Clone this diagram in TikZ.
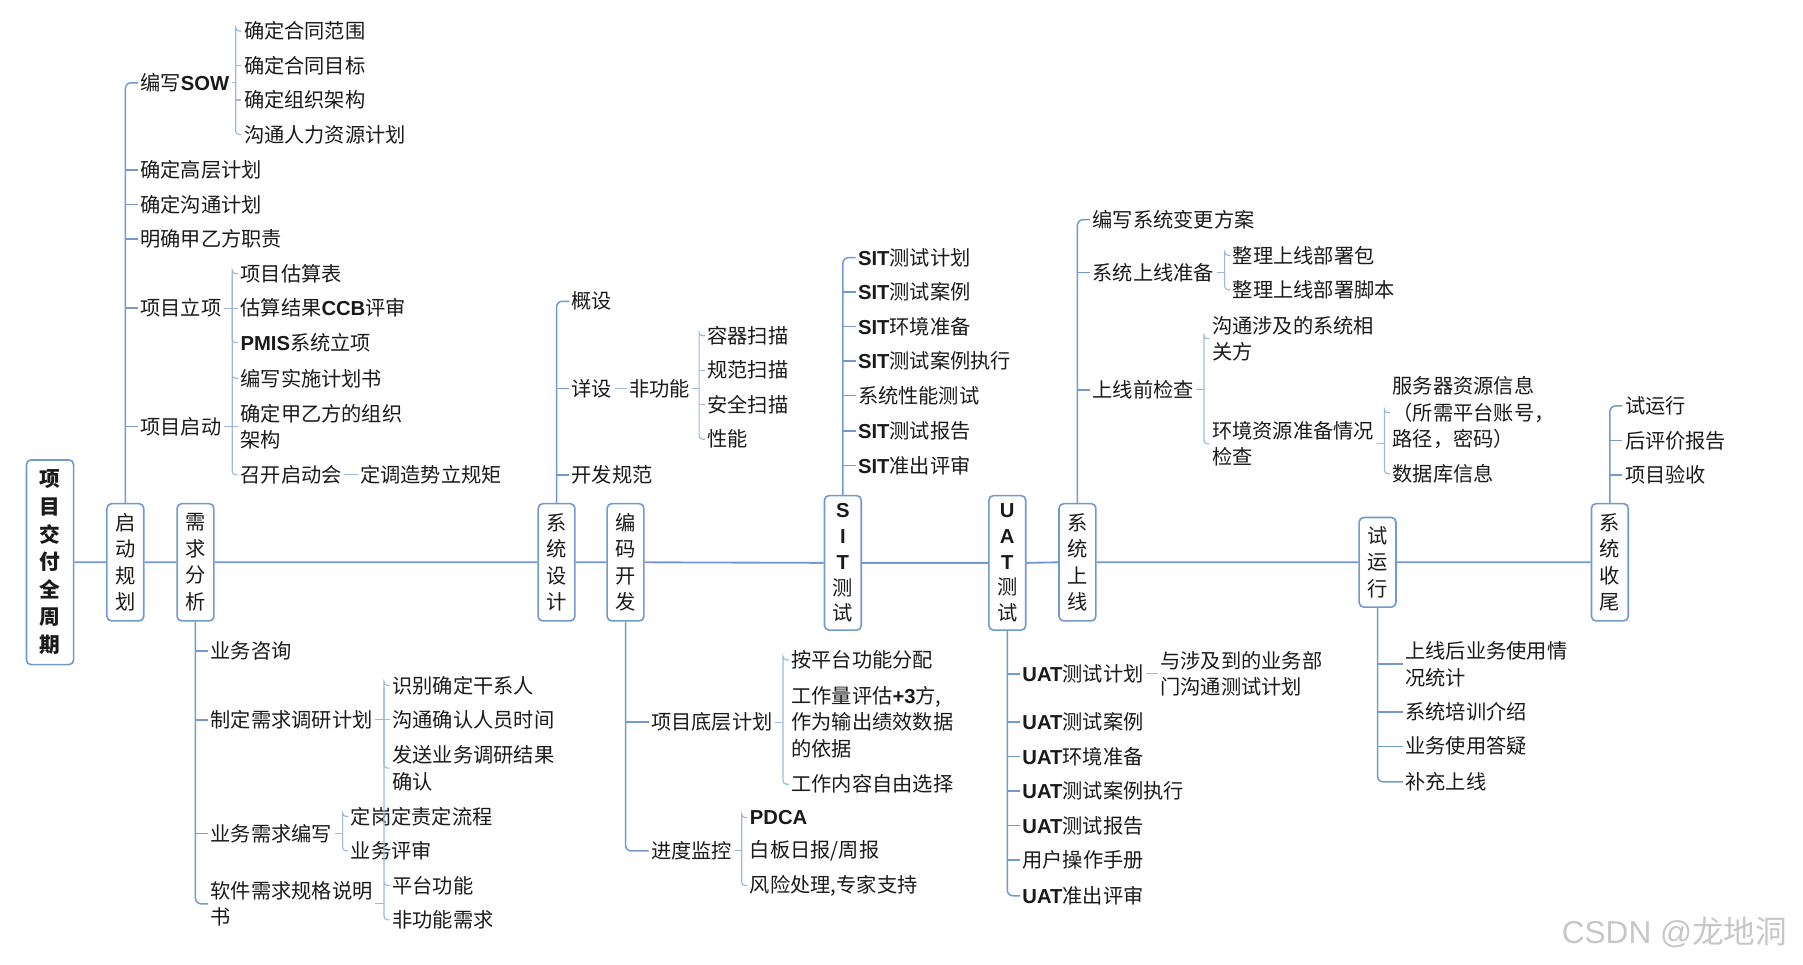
\documentclass[tikz,border=0pt]{standalone}
\usepackage{fontspec}
\setmainfont{Noto Sans CJK SC}
\newfontfamily\latb{Liberation Sans}
\newcommand\BL[1]{{\latb\bfseries #1}}
\definecolor{ln}{HTML}{7299D2}
\definecolor{lnl}{HTML}{9CB8E0}
\definecolor{txt}{HTML}{1A1A1A}
\begin{document}
\begin{tikzpicture}[x=1pt,y=-1pt,
  font=\fontsize{17.6}{23}\selectfont,
  box/.style={draw=ln, line width=1.4pt, rounded corners=4pt, fill=white, align=center, inner sep=0pt, minimum width=32pt, text width=32pt, text=txt},
  t/.style={anchor=west, inner xsep=2pt, inner ysep=1pt, xshift=-2pt, align=left, text=txt},
  trunk/.style={draw=ln, line width=1.3pt},
  tr/.style={draw=ln, line width=1.3pt, rounded corners=5pt},
  br/.style={draw=lnl, line width=1pt},
  brr/.style={draw=lnl, line width=1pt, rounded corners=3pt},
  mainline/.style={draw=ln, line width=1.6pt}]
\useasboundingbox (0,0) rectangle (1568,839);

% ---- stage boxes ----
\node[box, minimum width=41pt, text width=41pt, minimum height=178pt, font=\bfseries\fontsize{18}{24}\selectfont] (root) at (43.5,489) {项\\目\\交\\付\\全\\周\\期};
\node[box, minimum height=102pt] (b1) at (109,489) {启\\动\\规\\划};
\node[box, minimum height=102pt] (b2) at (170,489) {需\\求\\分\\析};
\node[box, minimum height=102pt] (b3) at (484,489) {系\\统\\设\\计};
\node[box, minimum height=102pt] (b4) at (544,489) {编\\码\\开\\发};
\node[box, minimum height=117pt, font=\fontsize{17.6}{22.5}\selectfont] (b5) at (733,489.5) {\BL{S}\\\BL{I}\\\BL{T}\\测\\试};
\node[box, minimum height=117pt, font=\fontsize{17.6}{22.5}\selectfont] (b6) at (876,489.5) {\BL{U}\\\BL{A}\\\BL{T}\\测\\试};
\node[box, minimum height=102pt] (b7) at (937,489) {系\\统\\上\\线};
\node[box, minimum height=78pt] (b8) at (1198,489) {试\\运\\行};
\node[box, minimum height=102pt] (b9) at (1400,489) {系\\统\\收\\尾};

\draw[mainline] (root.east) -- (b1.west) (b1.east) -- (b2.west) (b2.east) -- (b3.west)
  (b3.east) -- (b4.west) (b4.east) -- (b5.west) (b5.east) -- (b6.west)
  (b6.east) -- (b7.west) (b7.east) -- (b8.west) (b8.east) -- (b9.west);

% ---- 启动规划 ----
\node[t] (a1) at (122,72) {编写\BL{SOW}};
\node[t] (a2) at (122,148) {确定高层计划};
\node[t] (a3) at (122,178) {确定沟通计划};
\node[t] (a4) at (122,208) {明确甲乙方职责};
\node[t] (a5) at (122,268) {项目立项};
\node[t] (a6) at (122,371) {项目启动};
\node[t] (a11) at (212,27) {确定合同范围};
\node[t] (a12) at (212,57) {确定合同目标};
\node[t] (a13) at (212,87) {确定组织架构};
\node[t] (a14) at (212,117) {沟通人力资源计划};
\node[t] (a51) at (209,238) {项目估算表};
\node[t] (a52) at (209,268) {估算结果\BL{CCB}评审};
\node[t] (a53) at (209,298) {\BL{PMIS}系统立项};
\node[t] (a61) at (209,329) {编写实施计划书};
\node[t] (a62) at (209,371) {确定甲乙方的组织\\架构};
\node[t] (a63) at (209,413) {召开启动会};
\node[t] (a631) at (313,413) {定调造势立规矩};

\draw[tr] (b1.north) |- (a1.west);
\foreach \n in {a2,a3,a4,a5,a6} \draw[trunk] (b1.north |- \n.west) -- (\n.west);
\coordinate (xa1) at ([xshift=-5pt]a11.west);
\draw[brr] (a11.west) -| (xa1) |- (a14.west);
\draw[br] (a1.east) -- (a1.east -| xa1) (a12.west) -- (a12.west -| xa1) (a13.west) -- (a13.west -| xa1);
\coordinate (xa5) at ([xshift=-5pt]a51.west);
\draw[brr] (a51.west) -| (xa5) |- (a53.west);
\draw[br] (a5.east) -- (a5.east -| xa5) (a52.west) -- (a52.west -| xa5);
\draw[brr] (a61.west) -| (xa5) |- (a63.west);
\draw[br] (a6.east) -- (a6.east -| xa5) (a62.west) -- (a62.west -| xa5);
\draw[br] (a63.east) -- (a631.west);

% ---- 需求分析 ----
\node[t] (r1) at (183,566) {业务咨询};
\node[t] (r2) at (183,626) {制定需求调研计划};
\node[t] (r3) at (183,725) {业务需求编写};
\node[t] (r4) at (183,786) {软件需求规格说明\\书};
\node[t] (r21) at (341,596) {识别确定干系人};
\node[t] (r22) at (341,626) {沟通确认人员时间};
\node[t] (r23) at (341,668) {发送业务调研结果\\确认};
\node[t] (r31) at (305,710) {定岗定责定流程};
\node[t] (r32) at (305,740) {业务评审};
\node[t] (r41) at (341,770) {平台功能};
\node[t] (r42) at (341,800) {非功能需求};

\draw[tr] (b2.south) |- (r4.west);
\foreach \n in {r1,r2,r3} \draw[trunk] (b2.south |- \n.west) -- (\n.west);
\coordinate (xr2) at ([xshift=-5pt]r21.west);
\draw[brr] (r21.west) -| (xr2) |- (r23.west);
\draw[br] (r2.east) -- (r2.east -| xr2) (r22.west) -- (r22.west -| xr2);
\coordinate (xr3) at ([xshift=-5pt]r31.west);
\draw[brr] (r31.west) -| (xr3) |- (r32.west);
\draw[br] (r3.east) -- (r3.east -| xr3);
\draw[brr] (r41.west) -| (xr2) |- (r42.west);
\draw[br] (r4.east) -- (r4.east -| xr2);

% ---- 系统设计 ----
\node[t] (s1) at (497,262) {概设};
\node[t] (s2) at (497,338) {详设};
\node[t] (s3) at (497,413) {开发规范};
\node[t] (s21) at (547,338) {非功能};
\node[t] (s211) at (615,292) {容器扫描};
\node[t] (s212) at (615,322) {规范扫描};
\node[t] (s213) at (615,352) {安全扫描};
\node[t] (s214) at (615,382) {性能};

\draw[tr] (b3.north) |- (s1.west);
\foreach \n in {s2,s3} \draw[trunk] (b3.north |- \n.west) -- (\n.west);
\draw[br] (s2.east) -- (s21.west);
\coordinate (xs2) at ([xshift=-5pt]s211.west);
\draw[brr] (s211.west) -| (xs2) |- (s214.west);
\draw[br] (s21.east) -- (s21.east -| xs2) (s212.west) -- (s212.west -| xs2) (s213.west) -- (s213.west -| xs2);

% ---- 编码开发 ----
\node[t] (d1) at (566,628) {项目底层计划};
\node[t] (d2) at (566,740) {进度监控};
\node[t] (d11) at (688,574) {按平台功能分配};
\node[t] (d12) at (688,628) {工作量评估\BL{+3}方,\\作为输出绩效数据\\的依据};
\node[t] (d13) at (688,682) {工作内容自由选择};
\node[t] (d21) at (652,711) {\BL{PDCA}};
\node[t] (d22) at (652,740) {白板日报/周报};
\node[t] (d23) at (652,770) {风险处理,专家支持};

\draw[tr] (b4.south) |- (d2.west);
\draw[trunk] (b4.south |- d1.west) -- (d1.west);
\coordinate (xd1) at ([xshift=-5pt]d11.west);
\draw[brr] (d11.west) -| (xd1) |- (d13.west);
\draw[br] (d1.east) -- (d1.east -| xd1);
\coordinate (xd2) at ([xshift=-5pt]d21.west);
\draw[brr] (d21.west) -| (xd2) |- (d23.west);
\draw[br] (d2.east) -- (d2.east -| xd2);

% ---- SIT测试 ----
\node[t] (t1) at (746,224) {\BL{SIT}测试计划};
\node[t] (t2) at (746,254) {\BL{SIT}测试案例};
\node[t] (t3) at (746,284) {\BL{SIT}环境准备};
\node[t] (t4) at (746,314) {\BL{SIT}测试案例执行};
\node[t] (t5) at (746,344) {系统性能测试};
\node[t] (t6) at (746,375) {\BL{SIT}测试报告};
\node[t] (t7) at (746,405) {\BL{SIT}准出评审};
\draw[tr] (b5.north) |- (t1.west);
\foreach \n in {t2,t3,t4,t5,t6,t7} \draw[trunk] (b5.north |- \n.west) -- (\n.west);

% ---- UAT测试 ----
\node[t] (u1) at (889,586) {\BL{UAT}测试计划};
\node[t] (u11) at (1009,586) {与涉及到的业务部\\门沟通测试计划};
\node[t] (u2) at (889,628) {\BL{UAT}测试案例};
\node[t] (u3) at (889,658) {\BL{UAT}环境准备};
\node[t] (u4) at (889,688) {\BL{UAT}测试案例执行};
\node[t] (u5) at (889,718) {\BL{UAT}测试报告};
\node[t] (u6) at (889,748) {用户操作手册};
\node[t] (u7) at (889,779) {\BL{UAT}准出评审};
\draw[tr] (b6.south) |- (u7.west);
\foreach \n in {u1,u2,u3,u4,u5,u6} \draw[trunk] (b6.south |- \n.west) -- (\n.west);
\draw[br] (u1.east) -- (u11.west);

% ---- 系统上线 ----
\node[t] (g1) at (950,191) {编写系统变更方案};
\node[t] (g2) at (950,237) {系统上线准备};
\node[t] (g3) at (950,339) {上线前检查};
\node[t] (g21) at (1072,222) {整理上线部署包};
\node[t] (g22) at (1072,252) {整理上线部署脚本};
\node[t] (g31) at (1054,294.5) {沟通涉及的系统相\\关方};
\node[t] (g32) at (1054,386) {环境资源准备情况\\检查};
\node[t] (g321) at (1211,359) {服务器资源信息\\（所需平台账号，\\路径，密码）};
\node[t] (g322) at (1211,412) {数据库信息};
\draw[tr] (b7.north) |- (g1.west);
\foreach \n in {g2,g3} \draw[trunk] (b7.north |- \n.west) -- (\n.west);
\coordinate (xg2) at ([xshift=-5pt]g21.west);
\draw[brr] (g21.west) -| (xg2) |- (g22.west);
\draw[br] (g2.east) -- (g2.east -| xg2);
\coordinate (xg3) at ([xshift=-5pt]g31.west);
\draw[brr] (g31.west) -| (xg3) |- (g32.west);
\draw[br] (g3.east) -- (g3.east -| xg3);
\coordinate (xg32) at ([xshift=-5pt]g321.west);
\draw[brr] (g321.west) -| (xg32) |- (g322.west);
\draw[br] (g32.east) -- (g32.east -| xg32);

% ---- 试运行 ----
\node[t] (h1) at (1222,577.5) {上线后业务使用情\\况统计};
\node[t] (h2) at (1222,619) {系统培训介绍};
\node[t] (h3) at (1222,649) {业务使用答疑};
\node[t] (h4) at (1222,680) {补充上线};
\draw[tr] (b8.south) |- (h4.west);
\foreach \n in {h1,h2,h3} \draw[trunk] (b8.south |- \n.west) -- (\n.west);

% ---- 系统收尾 ----
\node[t] (k1) at (1413,353) {试运行};
\node[t] (k2) at (1413,383) {后评价报告};
\node[t] (k3) at (1413,413) {项目验收};
\draw[tr] (b9.north) |- (k1.west);
\foreach \n in {k2,k3} \draw[trunk] (b9.north |- \n.west) -- (\n.west);

% ---- watermark ----
\node[anchor=west, inner sep=0pt, text=black!22, font=\fontsize{27.5}{32}\selectfont] (wm) at (1358,811) {{\latb CSDN @}龙地洞};
\end{tikzpicture}
\end{document}
